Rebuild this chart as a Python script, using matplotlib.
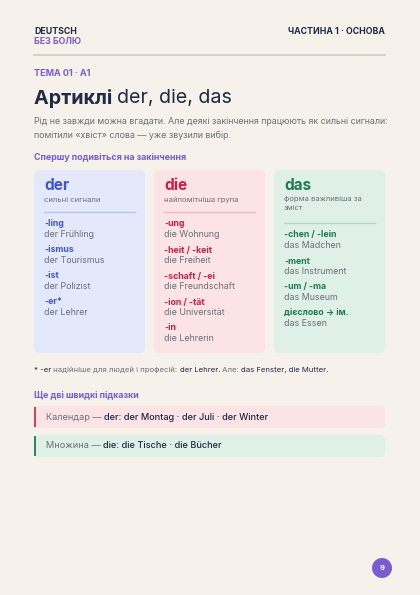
import matplotlib
matplotlib.use("Agg")
import matplotlib.pyplot as plt
from matplotlib.patches import FancyBboxPatch, Circle, Rectangle

plt.rcParams['font.family'] = ['Inter', 'DejaVu Sans']

BG = '#f6f1ea'
NAVY = '#1f2a44'
PURPLE = '#7a5cd0'
GREY = '#6b6f7a'

articles = ['der', 'die', 'das']
subtitles = ['сильні сигнали', 'найпомітніша група', 'форма важливіша за\nзміст']
endings = [
    ['-ling', '-ismus', '-ist', '-er*'],
    ['-ung', '-heit / -keit', '-schaft / -ei', '-ion / -tät', '-in'],
    ['-chen / -lein', '-ment', '-um / -ma', 'дієслово → ім.'],
]
examples = [
    ['der Frühling', 'der Tourismus', 'der Polizist', 'der Lehrer'],
    ['die Wohnung', 'die Freiheit', 'die Freundschaft', 'die Universität', 'die Lehrerin'],
    ['das Mädchen', 'das Instrument', 'das Museum', 'das Essen'],
]
card_bg = ['#e3e8fb', '#fbe3e6', '#dff1e6']
accent = ['#3d55d6', '#d01d45', '#1e7a50']
line_col = ['#b9c3f0', '#f1b9c3', '#aedcc2']

fig = plt.figure(figsize=(4.2, 5.95), dpi=100)
fig.patch.set_facecolor(BG)
ax = fig.add_axes([0, 0, 1, 1])
ax.set_xlim(0, 420)
ax.set_ylim(595, 0)
ax.axis('off')
fig.canvas.draw()
renderer = fig.canvas.get_renderer()


def runs(x, y, parts, size):
    # parts: list of (text, color, weight)
    for txt, col, w in parts:
        t = ax.text(x, y, txt, color=col, fontsize=size, fontweight=w, va='center')
        x += t.get_window_extent(renderer).width


ax.text(34, 31, 'DEUTSCH', color=NAVY, fontsize=6.3, fontweight='bold', va='center')
ax.text(34, 42, 'БЕЗ БОЛЮ', color=PURPLE, fontsize=6.3, fontweight='bold', va='center')
ax.text(385, 32, 'ЧАСТИНА 1 · ОСНОВА', color=NAVY, fontsize=6.3, fontweight='bold', va='center', ha='right')
ax.plot([34, 385], [55, 55], color='#cfcac3', lw=1.2)
ax.text(34, 73, 'ТЕМА 01 · А1', color=PURPLE, fontsize=6.5, fontweight='bold', va='center')
runs(34, 98, [('Артиклі ', NAVY, 'bold'), ('der, die, das', NAVY, 'normal')], 14.2)
ax.text(34, 121, 'Рід не завжди можна вгадати. Але деякі закінчення працюють як сильні сигнали:',
        color=GREY, fontsize=6.4, va='center')
ax.text(34, 135, 'помітили «хвіст» слова — уже звузили вибір.', color=GREY, fontsize=6.4, va='center')
ax.text(34, 158, 'Спершу подивіться на закінчення', color=PURPLE, fontsize=6.4, fontweight='bold', va='center')

card_x = [34, 154, 274]
for i in range(3):
    x0 = card_x[i]
    ax.add_patch(FancyBboxPatch((x0, 170), 111, 183, boxstyle='round,pad=0,rounding_size=6',
                                fc=card_bg[i], ec='none'))
    ax.text(x0 + 10, 186, articles[i], color=accent[i], fontsize=11, fontweight='bold', va='center')
    nsub = subtitles[i].count('\n')
    ax.text(x0 + 10, 196.5, subtitles[i], color=GREY, fontsize=5.5, va='top', linespacing=1.6)
    ly = 212 + 11 * nsub
    ax.plot([x0 + 10, x0 + 101], [ly, ly], color=line_col[i], lw=1)
    y = ly + 12
    for e, ex in zip(endings[i], examples[i]):
        ax.text(x0 + 10, y, e, color=accent[i], fontsize=6.3, fontweight='bold', va='center')
        ax.text(x0 + 10, y + 10.5, ex, color=GREY, fontsize=6.4, va='center')
        y += 26

runs(34, 370, [('* -er', NAVY, 'normal'), (' надійніше для людей і професій: ', GREY, 'normal'),
               ('der Lehrer.', NAVY, 'normal'), (' Але: ', GREY, 'normal'),
               ('das Fenster, die Mutter.', NAVY, 'normal')], 5.6)
ax.text(34, 395, 'Ще дві швидкі підказки', color=PURPLE, fontsize=6.4, fontweight='bold', va='center')

tips = [
    [('Календар — ', GREY, 'normal'), ('der: der Montag · der Juli · der Winter', NAVY, 'medium')],
    [('Множина — ', GREY, 'normal'), ('die: die Tische · die Bücher', NAVY, 'medium')],
]
tip_bg = ['#fbe3e6', '#dff1e6']
tip_bar = ['#d6435a', '#2a8a5a']
tip_y = [406, 435]
for tp, bgc, bc, ty in zip(tips, tip_bg, tip_bar, tip_y):
    ax.add_patch(FancyBboxPatch((34, ty), 351, 22, boxstyle='round,pad=0,rounding_size=5',
                                fc=bgc, ec='none'))
    ax.add_patch(Rectangle((34, ty + 1), 2, 20, fc=bc, ec='none'))
    runs(46, ty + 11, tp, 6.6)

ax.add_patch(Circle((382, 568), 10, fc=PURPLE, ec='none'))
ax.text(382, 568, '9', color='white', fontsize=5.5, fontweight='bold', ha='center', va='center')

fig.savefig('out.png', dpi=100, facecolor=BG)
